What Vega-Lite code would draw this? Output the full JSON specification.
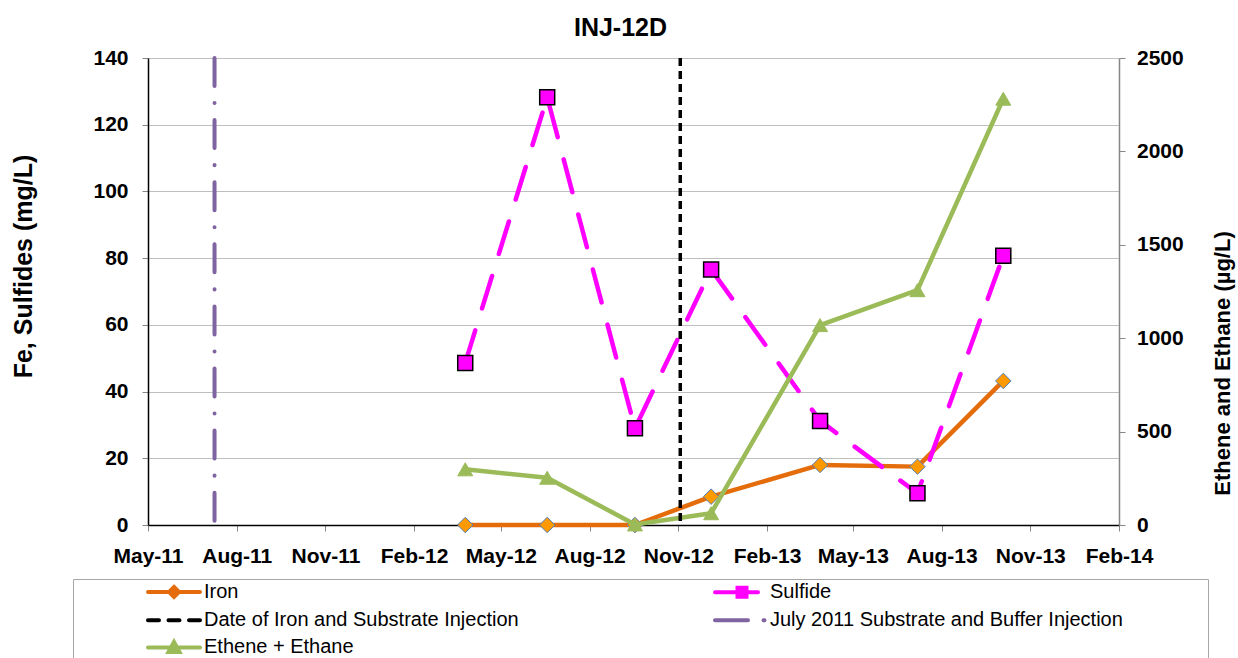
{
  "$schema": "https://vega.github.io/schema/vega-lite/v6.json",
  "width": 971,
  "height": 467,
  "autosize": "none",
  "padding": {"left": 148, "top": 58, "right": 119, "bottom": 133},
  "background": "white",
  "config": {
    "view": {"stroke": null},
    "font": "Liberation Sans",
    "axis": {"labelFont": "Liberation Sans", "titleFont": "Liberation Sans", "labelColor": "black", "titleColor": "black"}
  },
  "title": {
    "text": "INJ-12D",
    "font": "Liberation Sans",
    "fontSize": 25,
    "fontWeight": "bold",
    "color": "black",
    "anchor": "middle",
    "frame": "group",
    "dx": -13,
    "offset": -14,
    "baseline": "alphabetic"
  },
  "datasets": {
    "obs": [
      {"date": "2012-03-25", "iron": 0, "sulfide": 48.6, "ethene": 298},
      {"date": "2012-06-18", "iron": 0, "sulfide": 128.2, "ethene": 253},
      {"date": "2012-09-17", "iron": 0, "sulfide": 29.0, "ethene": 3},
      {"date": "2012-12-05", "iron": 8.5, "sulfide": 76.6, "ethene": 63},
      {"date": "2013-03-28", "iron": 18.0, "sulfide": 31.2, "ethene": 1070},
      {"date": "2013-07-07", "iron": 17.5, "sulfide": 9.5, "ethene": 1257},
      {"date": "2013-10-04", "iron": 43.2, "sulfide": 80.7, "ethene": 2282}
    ]
  },
  "encoding": {
    "x": {
      "field": "date",
      "type": "temporal",
      "scale": {"type": "utc", "nice": false, "domain": [{"year": 2011, "month": 5, "date": 1, "utc": true}, {"year": 2014, "month": 2, "date": 1, "utc": true}]},
      "axis": {
        "title": null,
        "labelExpr": "utcFormat(datum.value, '%b-%y')",
        "values": [
          {"year": 2011, "month": 5, "date": 1, "utc": true},
          {"year": 2011, "month": 8, "date": 1, "utc": true},
          {"year": 2011, "month": 11, "date": 1, "utc": true},
          {"year": 2012, "month": 2, "date": 1, "utc": true},
          {"year": 2012, "month": 5, "date": 1, "utc": true},
          {"year": 2012, "month": 8, "date": 1, "utc": true},
          {"year": 2012, "month": 11, "date": 1, "utc": true},
          {"year": 2013, "month": 2, "date": 1, "utc": true},
          {"year": 2013, "month": 5, "date": 1, "utc": true},
          {"year": 2013, "month": 8, "date": 1, "utc": true},
          {"year": 2013, "month": 11, "date": 1, "utc": true},
          {"year": 2014, "month": 2, "date": 1, "utc": true}
        ],
        "grid": false,
        "domainColor": "black",
        "domainWidth": 1.5,
        "tickColor": "#868686",
        "tickSize": 6,
        "labelFontSize": 21,
        "labelFontWeight": "bold",
        "labelPadding": 14,
        "labelOverlap": false,
        "labelFlush": false
      }
    }
  },
  "layer": [
    {
      "data": {"name": "obs"},
      "layer": [
        {
          "mark": {"type": "line", "strokeWidth": 4.5, "strokeCap": "round", "strokeJoin": "round"},
          "encoding": {
            "y": {"field": "iron", "type": "quantitative", "scale": {"domain": [0, 140], "nice": false},
              "axis": {"orient": "left", "title": "Fe, Sulfides (mg/L)", "values": [0, 20, 40, 60, 80, 100, 120, 140], "format": "d", "grid": true, "gridColor": "#BFBFBF", "gridWidth": 1, "domainColor": "black", "domainWidth": 1.5, "tickColor": "#868686", "tickSize": 6, "labelFontSize": 21, "labelFontWeight": "bold", "labelPadding": 14, "titleFontSize": 25, "titleFontWeight": "bold", "titleX": -125, "titleY": 208, "titleAngle": 270, "titleAlign": "center", "titleBaseline": "middle"}},
            "color": {
              "datum": "Iron",
              "type": "nominal",
              "scale": {
                "domain": ["Iron", "Sulfide", "Date of Iron and Substrate Injection", "July 2011 Substrate and Buffer Injection", "Ethene + Ethane"],
                "range": ["#E46C0A", "#FF00FF", "#000000", "#8064A2", "#9BBB59"]
              },
              "legend": {
                "title": "\u00a0",
                "titleOrient": "right",
                "titlePadding": 84,
                "titleFontSize": 4,
                "orient": "none",
                "legendX": -75,
                "legendY": 521,
                "direction": "horizontal",
                "columns": 2,
                "padding": 1,
                "strokeColor": "#A6A6A6",
                "fillColor": "white",
                "symbolSize": 400,
                "symbolStrokeWidth": 4,
                "symbolOffset": 88,
                "labelOffset": 18,
                "columnPadding": 121,
                "rowPadding": 3.2,
                "labelFont": "Liberation Sans",
                "labelFontSize": 20,
                "labelColor": "black",
                "labelLimit": 0,
                "encode": {
                  "symbols": {
                    "update": {
                      "shape": {"signal": "datum.value === 'Iron' ? 'M-2.6,0H2.6M0,-0.5L0.5,0L0,0.5L-0.5,0Z' : datum.value === 'Sulfide' ? 'M-2.5,0H1.8M-0.25,-0.45H0.65V0.45H-0.25Z' : datum.value === 'Date of Iron and Substrate Injection' ? 'M-2.6,0H-1.5M-0.55,0H0.55M1.5,0H2.6' : datum.value === 'July 2011 Substrate and Buffer Injection' ? 'M-2.5,0H0.8M2.35,0H2.45' : 'M-2.6,0H2.6M0,-0.55L0.55,0.45H-0.55Z'"},
                      "fill": {"signal": "datum.value === 'Iron' ? '#FF9900' : datum.value === 'Sulfide' ? '#FF00FF' : datum.value === 'Ethene + Ethane' ? '#9BBB59' : 'transparent'"},
                      "stroke": {"signal": "datum.value === 'Iron' ? '#E46C0A' : datum.value === 'Sulfide' ? '#FF00FF' : datum.value === 'Date of Iron and Substrate Injection' ? '#000000' : datum.value === 'July 2011 Substrate and Buffer Injection' ? '#8064A2' : '#9BBB59'"},
                      "strokeCap": {"value": "round"},
                      "opacity": {"value": 1}
                    }
                  }
                }
              }
            }
          }
        },
        {
          "mark": {"type": "point", "shape": "diamond", "filled": true, "fill": "#FF9900", "stroke": "#4F81BD", "strokeWidth": 1, "size": 240, "opacity": 1},
          "encoding": {
            "y": {"field": "iron", "type": "quantitative", "scale": {"domain": [0, 140], "nice": false}}
          }
        },
        {
          "mark": {"type": "line", "strokeWidth": 4.5, "strokeDash": [34, 23], "strokeCap": "round", "strokeJoin": "round"},
          "encoding": {
            "y": {"field": "sulfide", "type": "quantitative", "scale": {"domain": [0, 140], "nice": false}},
            "color": {"datum": "Sulfide", "type": "nominal"}
          }
        },
        {
          "mark": {"type": "point", "shape": "square", "filled": true, "fill": "#FF00FF", "stroke": "#000000", "strokeWidth": 1.5, "size": 225, "opacity": 1},
          "encoding": {
            "y": {"field": "sulfide", "type": "quantitative", "scale": {"domain": [0, 140], "nice": false}}
          }
        }
      ]
    },
    {
      "data": {"name": "obs"},
      "layer": [
        {
          "mark": {"type": "line", "strokeWidth": 4.5, "strokeCap": "round", "strokeJoin": "round"},
          "encoding": {
            "y": {"field": "ethene", "type": "quantitative", "scale": {"domain": [0, 2500], "nice": false},
              "axis": {"orient": "right", "title": "Ethene and Ethane (µg/L)", "values": [0, 500, 1000, 1500, 2000, 2500], "format": "d", "grid": false, "domainColor": "#868686", "domainWidth": 1.5, "tickColor": "#868686", "tickSize": 6, "labelFontSize": 21, "labelFontWeight": "bold", "labelPadding": 11.5, "titleFontSize": 22, "titleFontWeight": "bold", "titleX": 103, "titleY": 305, "titleAngle": 270, "titleAlign": "center", "titleBaseline": "middle"}},
            "color": {"datum": "Ethene + Ethane", "type": "nominal"}
          }
        },
        {
          "mark": {"type": "point", "shape": "triangle-up", "filled": true, "fill": "#9BBB59", "stroke": "#9BBB59", "strokeWidth": 1, "size": 225, "opacity": 1},
          "encoding": {
            "y": {"field": "ethene", "type": "quantitative", "scale": {"domain": [0, 2500], "nice": false}}
          }
        }
      ]
    },
    {
      "data": {"values": [{"date": "2012-11-03"}]},
      "mark": {"type": "rule", "strokeWidth": 3.5, "strokeDash": [8, 5]},
      "encoding": {
        "color": {"datum": "Date of Iron and Substrate Injection", "type": "nominal"}
      }
    },
    {
      "data": {"values": [{"date": "2011-07-09"}]},
      "mark": {"type": "rule", "strokeWidth": 4, "strokeDash": [28, 17, 0.1, 17], "strokeCap": "round"},
      "encoding": {
        "color": {"datum": "July 2011 Substrate and Buffer Injection", "type": "nominal"}
      }
    }
  ],
  "resolve": {"scale": {"y": "independent"}}
}
